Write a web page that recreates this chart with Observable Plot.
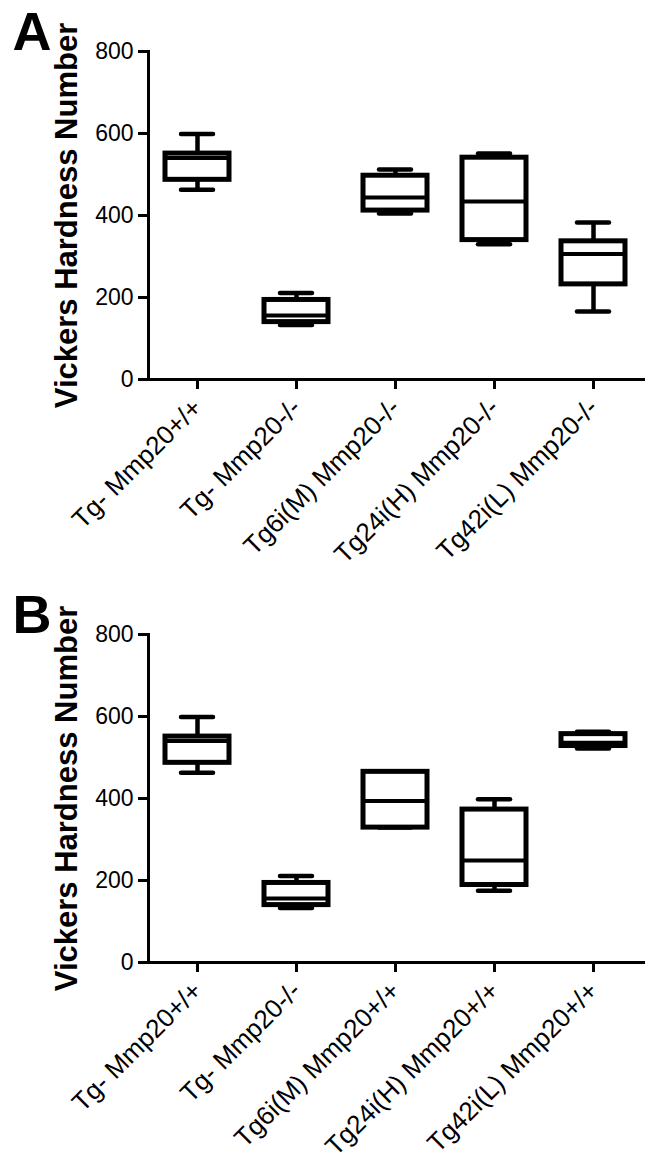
<!DOCTYPE html>
<html>
<head>
<meta charset="utf-8">
<script src="https://cdn.jsdelivr.net/npm/d3@7"></script>
<script src="https://cdn.jsdelivr.net/npm/@observablehq/plot@0.6"></script>
<style>
  html, body { margin: 0; padding: 0; background: #fff; }
  #chart svg { display: block; }
</style>
</head>
<body>
<div id="chart"></div>
<script>
// Panel A
const groupsA = ["Tg- Mmp20+/+", "Tg- Mmp20-/-", "Tg6i(M) Mmp20-/-", "Tg24i(H) Mmp20-/-", "Tg42i(L) Mmp20-/-"];
const minA = [463, 133, 405, 330, 166];
const q1A  = [487, 140, 412, 340, 232];
const medA = [540, 156, 444, 434, 306];
const q3A  = [551, 194, 497, 541, 337];
const maxA = [599, 211, 512, 551, 383];

// Panel B
const groupsB = ["Tg- Mmp20+/+", "Tg- Mmp20-/-", "Tg6i(M) Mmp20+/+", "Tg24i(H) Mmp20+/+", "Tg42i(L) Mmp20+/+"];
const minB = [463, 133, 329, 175, 522];
const q1B  = [487, 140, 329, 189, 528];
const medB = [540, 156, 394, 249, 536];
const q3B  = [551, 194, 465, 373, 557];
const maxB = [599, 211, 465, 398, 563];

const yTicks = [0, 200, 400, 600, 800];
const yTitle = "Vickers Hardness Number";

function panel(letter, groups, mins, q1s, meds, q3s, maxs) {
  const rows = groups.map((g, i) => ({group: g, min: mins[i], q1: q1s[i], med: meds[i], q3: q3s[i], max: maxs[i]}));
  return Plot.plot({
    width: 657,
    height: 583,
    marginTop: 51,
    marginBottom: 204,
    marginLeft: 148,
    marginRight: 14,
    style: {fontFamily: "'Liberation Sans', Arial, sans-serif", color: "black", background: "white"},
    x: {domain: groups, paddingInner: 0.35, paddingOuter: 0.175, label: null},
    y: {domain: [0, 800], label: null},
    marks: [
      Plot.ruleX(rows, {x: "group", y1: "min", y2: "q1", stroke: "black", strokeWidth: 4.5}),
      Plot.ruleX(rows, {x: "group", y1: "q3", y2: "max", stroke: "black", strokeWidth: 4.5}),
      Plot.tickY(rows, {x: "group", y: "min", stroke: "black", strokeWidth: 4.5, strokeLinecap: "round", insetLeft: 16, insetRight: 16}),
      Plot.tickY(rows, {x: "group", y: "max", stroke: "black", strokeWidth: 4.5, strokeLinecap: "round", insetLeft: 16, insetRight: 16}),
      Plot.barY(rows, {x: "group", y1: "q1", y2: "q3", fill: "white", stroke: "black", strokeWidth: 5}),
      Plot.tickY(rows, {x: "group", y: "med", stroke: "black", strokeWidth: 4}),
      Plot.frame({anchor: "left", stroke: "black", strokeWidth: 3}),
      Plot.frame({anchor: "bottom", stroke: "black", strokeWidth: 3}),
      Plot.axisY({ticks: yTicks, tickSize: 10, tickPadding: 5, fontSize: 23, strokeWidth: 3, label: null}),
      Plot.axisX({tickSize: 10, tickPadding: 14, tickRotate: -45, fontSize: 26, strokeWidth: 3, label: null}),
      Plot.text([yTitle], {text: d => d, frameAnchor: "left", dx: -81, rotate: -90, textAnchor: "middle", lineAnchor: "middle", fontSize: 31, fontWeight: "bold", fill: "black"}),
      Plot.text([letter], {text: d => d, frameAnchor: "top-left", dx: -136, dy: -2, textAnchor: "start", lineAnchor: "bottom", fontSize: 54, fontWeight: "bold", fill: "black"})
    ]
  });
}

const chart = document.getElementById("chart");
chart.append(panel("A", groupsA, minA, q1A, medA, q3A, maxA));
chart.append(panel("B", groupsB, minB, q1B, medB, q3B, maxB));
</script>
</body>
</html>
